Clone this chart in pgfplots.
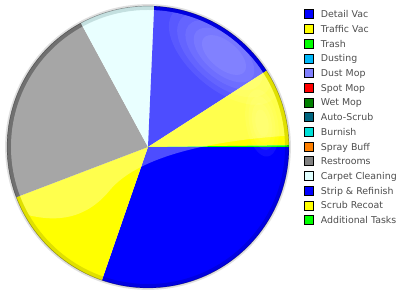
\documentclass[border=0pt]{standalone}
\usepackage{pgfplots}
\pgfplotsset{compat=1.18}
\usepackage{fontspec}
\setmainfont{DejaVu Sans}
\definecolor{cDV}{HTML}{0000FF}
\definecolor{cTV}{HTML}{FFFF00}
\definecolor{cTR}{HTML}{00FF00}
\definecolor{cDU}{HTML}{00B8F8}
\definecolor{cDM}{HTML}{8080FF}
\definecolor{cSM}{HTML}{FF0000}
\definecolor{cWM}{HTML}{008000}
\definecolor{cAS}{HTML}{006680}
\definecolor{cBU}{HTML}{00E0D8}
\definecolor{cSB}{HTML}{FF8000}
\definecolor{cRR}{HTML}{808080}
\definecolor{cCC}{HTML}{E0FFFF}
\definecolor{cSR}{HTML}{0000FF}
\definecolor{cSC}{HTML}{FFFF00}
\definecolor{cAT}{HTML}{00FF00}
\definecolor{txt}{HTML}{4D4D4D}
\gdef\cumul{0}
\newcommand\pieslice[2]{%
  \pgfmathsetmacro\sA{-\cumul*3.6}%
  \pgfmathsetmacro\newcum{\cumul+#1}%
  \xdef\cumul{\newcum}%
  \pgfmathsetmacro\sB{-\cumul*3.6}%
  \edef\temp{\noexpand\addplot[fill=#2, draw=none, domain=\sB:\sA, samples=90, forget plot] ({cos(x)},{sin(x)}) -- (axis cs:0,0) -- cycle;}%
  \temp
}
\begin{document}
\begin{tikzpicture}[x=1bp,y=1bp]
\useasboundingbox (0,0) rectangle (399,295);
\begin{axis}[
  at={(148bp,148bp)}, anchor=center,
  scale only axis, width=282bp, height=282bp,
  xmin=-1, xmax=1, ymin=-1, ymax=1,
  hide axis, clip=false,
  legend image code/.code={\fill[#1] (0bp,-4.5bp) rectangle (9bp,4.5bp);},
  legend style={at={(1.0514,0.9876)}, anchor=north west, draw=none, fill=none,
    inner sep=0pt, outer sep=0pt, row sep=5.3bp, column sep=8bp,
    nodes={inner sep=0pt, text depth=0pt, text height=7.1bp, font=\fontsize{9.4bp}{11bp}\selectfont, text=txt},
    cells={anchor=west}},
]
% percentages, clockwise from 3 o'clock, in legend order
\pieslice{30.3}{cDV}% Detail Vac
\pieslice{13.9}{cTV}% Traffic Vac
% Trash, Dusting, Dust Mop, Spot Mop, Wet Mop, Auto-Scrub, Burnish, Spray Buff: 0
\pieslice{22.9}{cRR}% Restrooms
\pieslice{8.6}{cCC}% Carpet Cleaning
\pieslice{15.2}{cSR}% Strip & Refinish
\pieslice{8.9}{cSC}% Scrub Recoat
\pieslice{0.2}{cAT}% Additional Tasks
\addlegendimage{fill=cDV}\addlegendentry{Detail Vac}
\addlegendimage{fill=cTV}\addlegendentry{Traffic Vac}
\addlegendimage{fill=cTR}\addlegendentry{Trash}
\addlegendimage{fill=cDU}\addlegendentry{Dusting}
\addlegendimage{fill=cDM}\addlegendentry{Dust Mop}
\addlegendimage{fill=cSM}\addlegendentry{Spot Mop}
\addlegendimage{fill=cWM}\addlegendentry{Wet Mop}
\addlegendimage{fill=cAS}\addlegendentry{Auto-Scrub}
\addlegendimage{fill=cBU}\addlegendentry{Burnish}
\addlegendimage{fill=cSB}\addlegendentry{Spray Buff}
\addlegendimage{fill=cRR}\addlegendentry{Restrooms}
\addlegendimage{fill=cCC}\addlegendentry{Carpet Cleaning}
\addlegendimage{fill=cSR}\addlegendentry{Strip \& Refinish}
\addlegendimage{fill=cSC}\addlegendentry{Scrub Recoat}
\addlegendimage{fill=cAT}\addlegendentry{Additional Tasks}
\end{axis}
% glossy decoration
\draw[black, opacity=0.12, line width=4] (148,148) circle (139);
\begin{scope}
\clip (148,148) circle (137);
\fill[white, opacity=0.3] (0,90) .. controls (40,72) and (80,68) .. (110,105)
   .. controls (135,135) and (200,155) .. (300,160) -- (300,300) -- (0,300) -- cycle;
\foreach \s in {1.0,0.85,0.7,0.55,0.4}{
  \fill[white, opacity=0.07, rotate around={-40:(224,240)}] (224,240) ellipse ({66*\s} and {34*\s});
}
\foreach \s in {1.0,0.8,0.6,0.4}{
  \fill[white, opacity=0.06, rotate around={-80:(262,172)}] (262,172) ellipse ({34*\s} and {16*\s});
}
\end{scope}
\draw[black, opacity=0.35, line width=0.7] (148,148) circle (141);
\draw[black, opacity=0.12, line width=1.4] (148,148) circle (142.2);
\end{tikzpicture}
\end{document}
